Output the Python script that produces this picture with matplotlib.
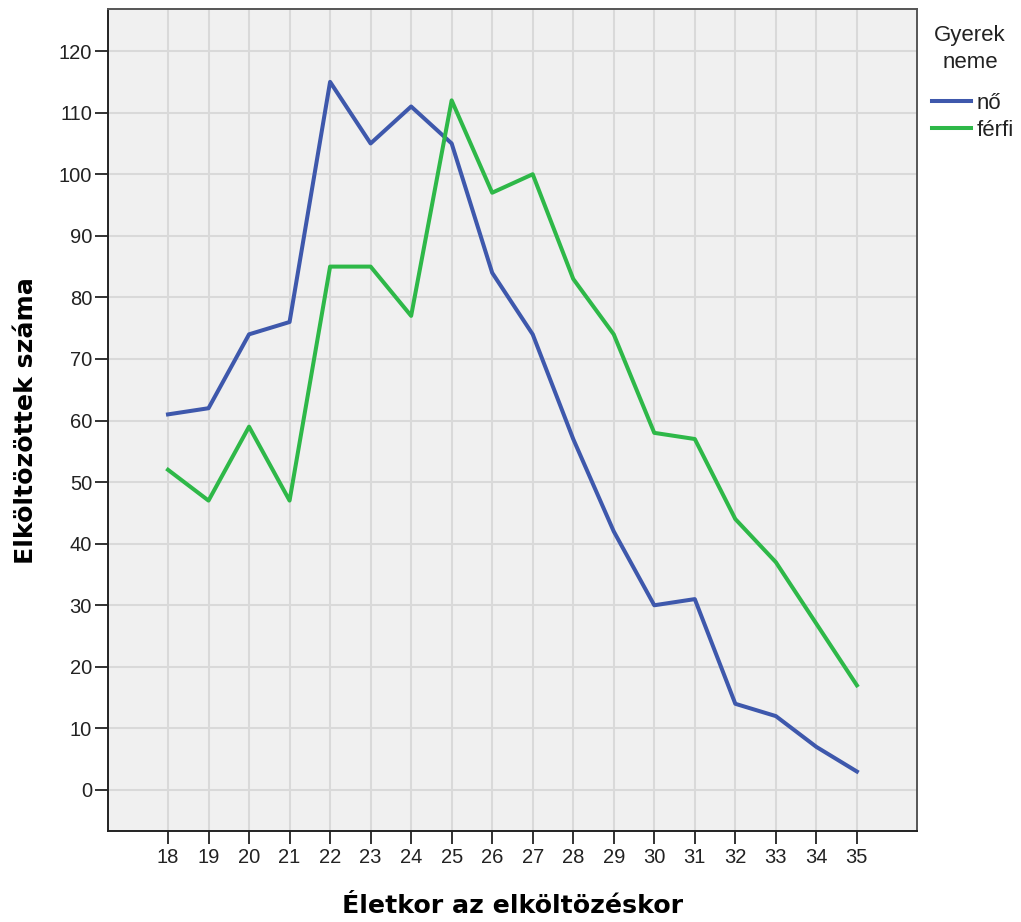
import matplotlib
matplotlib.use("Agg")
import matplotlib.pyplot as plt

ages = list(range(18, 36))
no_values = [61, 62, 74, 76, 115, 105, 111, 105, 84, 74, 57, 42, 30, 31, 14, 12, 7, 3]
ferfi_values = [52, 47, 59, 47, 85, 85, 77, 112, 97, 100, 83, 74, 58, 57, 44, 37, 27, 17]
series_names = ["nő", "férfi"]
legend_title_lines = ["Gyerek", "neme"]
y_ticks = list(range(0, 121, 10))

plt.rcParams['font.family'] = ['Liberation Sans', 'DejaVu Sans']

W, H = 1021, 922
fig = plt.figure(figsize=(W / 100, H / 100), dpi=100)
ax = fig.add_axes([0.1058, 0.0987, 0.898 - 0.1058, 0.990 - 0.0987])
ax.set_facecolor('#f0f0f0')

ax.plot(ages, no_values, color='#3e58ac', lw=2.9, label=series_names[0], zorder=3)
ax.plot(ages, ferfi_values, color='#2eb848', lw=2.9, label=series_names[1], zorder=3)

ax.set_xlim(16.52, 36.48)
ax.set_ylim(-6.66, 126.8)
ax.set_xticks(ages)
ax.set_xticklabels([str(a) for a in ages], fontsize=14.5, color='#222222')
ax.set_yticks(y_ticks)
ax.set_yticklabels([str(v) for v in y_ticks], fontsize=14.5, color='#222222')
ax.grid(True, color='#d9d9d9', lw=1.5, zorder=0)
ax.set_axisbelow(True)
ax.tick_params(axis='x', direction='out', length=9.5, width=1.3, color='#222222', pad=3)
ax.tick_params(axis='y', direction='out', length=9.5, width=1.3, color='#222222', pad=2)

for s in ax.spines.values():
    s.set_color('#555555')
    s.set_linewidth(1.4)
ax.spines['left'].set_color('#222222')
ax.spines['bottom'].set_color('#222222')

ax.set_xlabel("Életkor az elköltözéskor", fontsize=18.2, fontweight='bold',
              family='DejaVu Sans', labelpad=19)
ax.set_ylabel("Elköltözöttek száma", fontsize=18.2, fontweight='bold',
              family='DejaVu Sans', labelpad=15)

# legend title
for i, line in enumerate(legend_title_lines):
    fig.text(970 / W, 1 - (35 + 27 * i) / H, line, fontsize=16, color='#222222',
             ha='center', va='center')

leg = fig.legend(loc='upper left', bbox_to_anchor=(932 / W, 1 - 93 / H), frameon=False,
                 fontsize=16, handlelength=1.75, handletextpad=0.25, labelspacing=0.27,
                 borderpad=0, borderaxespad=0)
for t in leg.get_texts():
    t.set_color('#222222')

fig.savefig("out.png", dpi=100)
